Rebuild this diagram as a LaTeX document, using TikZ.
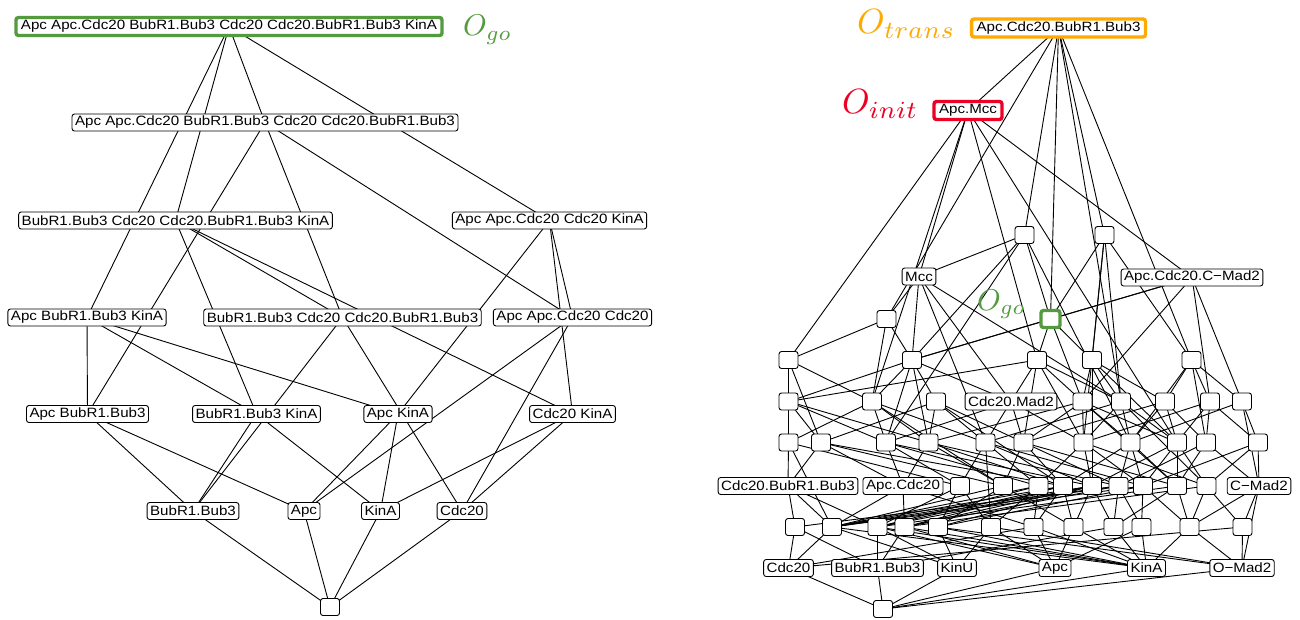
\documentclass[tikz,border=0pt]{standalone}
\usepackage{fontspec}
\usepackage{graphicx}
\newfontfamily\lblfont[FakeStretch=1.12]{Liberation Sans}
\pgfdeclarelayer{paper}
\pgfdeclarelayer{edges}
\pgfsetlayers{paper,edges,main}
\definecolor{gocol}{RGB}{84,154,62}
\definecolor{transcol}{RGB}{255,170,0}
\definecolor{initcol}{RGB}{236,0,36}
\tikzset{
  state/.style={draw=black, fill=white, rounded corners=2.5pt, line width=0.9pt,
    inner xsep=3pt, inner ysep=1pt, minimum height=17pt,
    font=\lblfont\fontsize{13.5}{14}\selectfont},
  blank/.style={state, minimum width=19pt, inner sep=0pt},
  hl/.style={draw=#1, line width=3.4pt, inner xsep=5pt, minimum height=18pt},
  link/.style={line width=0.9pt, draw=black},
  tag/.style={anchor=base west, inner sep=0pt, text=#1},
}
\begin{document}
\begin{tikzpicture}[x=1pt,y=-1pt]
\useasboundingbox (0,0) rectangle (1300,619);
\begin{pgfonlayer}{paper}
  \fill[white] (0,0) rectangle (1300,619);
\end{pgfonlayer}

% ---------------- left lattice ----------------
\node[state, hl=gocol] (lT)  at (229,26.5) {Apc Apc.Cdc20 BubR1.Bub3 Cdc20 Cdc20.BubR1.Bub3 KinA};
\node[tag=gocol] (lgo) at (463,35.5) {\scalebox{3}{$O_{go}$}};
\node[state] (lA1) at (265,122.5) {Apc Apc.Cdc20 BubR1.Bub3 Cdc20 Cdc20.BubR1.Bub3};
\node[state] (lB1) at (175.5,220.5) {BubR1.Bub3 Cdc20 Cdc20.BubR1.Bub3 KinA};
\node[state] (lB2) at (549.5,220.5) {Apc Apc.Cdc20 Cdc20 KinA};
\node[state] (lC1) at (87,317.5) {Apc BubR1.Bub3 KinA};
\node[state] (lC2) at (342.5,317.5) {BubR1.Bub3 Cdc20 Cdc20.BubR1.Bub3};
\node[state] (lC3) at (572.5,317.5) {Apc Apc.Cdc20 Cdc20};
\node[state] (lD1) at (87.5,414) {Apc BubR1.Bub3};
\node[state] (lD2) at (256.5,414) {BubR1.Bub3 KinA};
\node[state] (lD3) at (398,414) {Apc KinA};
\node[state] (lD4) at (572.5,414) {Cdc20 KinA};
\node[state] (lE1) at (193,511) {BubR1.Bub3};
\node[state] (lE2) at (304,511) {Apc};
\node[state] (lE3) at (380.5,511) {KinA};
\node[state] (lE4) at (462,511) {Cdc20};
\node[blank] (lF) at (330,607) {};

% ---------------- right lattice ----------------
\node[state, hl=transcol] (r0) at (1058.5,28) {Apc.Cdc20.BubR1.Bub3};
\node[tag=transcol] (ttrans) at (857,33) {\scalebox{3.5}{$O_{trans}$}};
\node[state, hl=initcol] (r1) at (968,110.5) {Apc.Mcc};
\node[tag=initcol] (tinit) at (842,113) {\scalebox{3.5}{$O_{init}$}};

\node[blank] (r2a) at (1024.5,235) {};
\node[blank] (r2b) at (1104.5,235) {};
\node[state] (mcc) at (919,276.5) {Mcc};
\node[state] (acc) at (1192,277.5) {Apc.Cdc20.C−Mad2};
\node[blank] (r4a) at (886.5,319) {};
\node[blank, draw=gocol, line width=3.4pt] (r4g) at (1050.5,319) {};
\node[tag=gocol] (rgo) at (977,310) {\scalebox{3}{$O_{go}$}};

\foreach \n/\x in {a/788.5,b/912,c/1037,d/1092,e/1191.5}
  \node[blank] (r5\n) at (\x,360) {};

\foreach \n/\x in {a/788.5,b/872,c/936,e/1082.5,f/1121,g/1165,h/1210,i/1242}
  \node[blank] (r6\n) at (\x,401.5) {};
\node[state] (r6d) at (1011,401.5) {Cdc20.Mad2};

\foreach \n/\x in {a/788.5,b/821,c/886,d/928.5,e/985.5,f/1023.5,g/1083.5,h/1130.5,i/1177,j/1206,k/1258}
  \node[blank] (r7\n) at (\x,442.5) {};

\node[state] (r8a) at (788,486) {Cdc20.BubR1.Bub3};
\node[state] (r8b) at (903,486) {Apc.Cdc20};
\foreach \n/\x in {c/960,d/1003,e/1038.5,f/1063,g/1092,h/1118.5,i/1143,j/1177,k/1206.5}
  \node[blank] (r8\n) at (\x,486) {};
\node[state] (r8l) at (1259,486) {C−Mad2};

\foreach \n/\x in {a/795,b/832,c/877.5,d/904.5,e/938,f/991,g/1033.5,h/1073.5,i/1113.5,j/1141.5,k/1189.5,l/1242.5}
  \node[blank] (r9\n) at (\x,527) {};

\node[state] (aC) at (788.5,568) {Cdc20};
\node[state] (aB) at (877.5,568) {BubR1.Bub3};
\node[state] (aU) at (957,568) {KinU};
\node[state] (aA) at (1055,568) {Apc};
\node[state] (aK) at (1146.5,568) {KinA};
\node[state] (aO) at (1242,568) {O−Mad2};
\node[blank] (rb) at (883,609) {};

% ---------------- connectors ----------------
\begin{pgfonlayer}{edges}
  % left lattice
  \foreach \u/\v in {lT/lA1,lT/lB1,lT/lB2,lT/lC1,
      lA1/lC2,lA1/lC3,lA1/lD1,
      lB1/lC2,lB1/lD2,lB1/lD4,
      lB2/lC3,lB2/lD3,lB2/lD4,
      lC1/lD1,lC1/lD2,lC1/lD3,
      lC2/lE1,lC2/lE4,lC3/lE2,lC3/lE4,
      lD1/lE1,lD1/lE2,lD2/lE1,lD2/lE3,lD3/lE2,lD3/lE3,lD4/lE3,lD4/lE4,
      lE1/lF,lE2/lF,lE3/lF,lE4/lF}
    \draw[link] (\u.center) -- (\v.center);
  % right lattice, upper part
  \foreach \u/\v in {r0/r1,r0/r4a,r0/r2a,r0/r4g,r0/r2b,r0/r5e,r0/r6f,
      r1/r5a,r1/mcc,r1/r6b,r1/r5c,r1/r7i,r1/acc,
      mcc/r2a,mcc/r4a,mcc/r5b,mcc/r6d,mcc/r6f,mcc/r7e,
      acc/r4g,acc/r5b,acc/r6e,acc/r6h,acc/r6i,
      r2a/r4g,r2a/r7c,r2a/r7h,r2a/r5b,
      r2b/r4g,r2b/r5d,r2b/r6f,r2b/r5e,r2b/r7g,
      r4a/r5a,r4a/r5b,r4a/r6b,
      r4g/r5b,r4g/r5c,r4g/r5d,r4g/r6e,
      r5a/r6a,r5a/r6b,r5a/r7b,
      r5b/r6a,r5b/r6b,r5b/r6c,r5b/r6d,r5b/r7c,r5b/r7d,
      r5c/r6a,r5c/r6d,r5c/r6e,r5c/r6f,r5c/r7f,r5c/r7g,
      r5d/r6e,r5d/r6f,r5d/r6g,r5d/r7i,r5d/r8g,
      r5e/r6g,r5e/r6h,r5e/r6i,r5e/r7h,r5e/r7j}
    \draw[link] (\u.center) -- (\v.center);
  % right lattice, middle part
  \foreach \u/\v in {r6a/r7a,r6a/r7b,r6a/r7c,r6a/r7d,
      r6b/r7a,r6b/r7c,r6b/r7d,r6b/r7e,r6b/r8d,
      r6c/r7b,r6c/r7d,r6c/r7e,r6c/r7f,r6c/r8f,
      r6d/r7c,r6d/r7e,r6d/r7f,r6d/r7g,
      r6e/r7d,r6e/r7f,r6e/r7g,r6e/r7h,r6e/r7i,r6e/r8j,
      r6f/r7e,r6f/r7g,r6f/r7h,r6f/r7i,r6f/r8k,
      r6g/r7f,r6g/r7h,r6g/r7i,r6g/r7j,
      r6h/r7g,r6h/r7i,r6h/r7j,r6h/r7k,
      r6i/r7h,r6i/r7k,r6i/r8l,
      r7a/r8a,r7a/r8c,r7a/r9b,
      r7b/r8a,r7b/r8b,r7b/r8d,r7b/r8f,
      r7c/r8b,r7c/r8c,r7c/r8e,r7c/r8g,
      r7d/r8b,r7d/r8d,r7d/r8f,r7d/r8h,
      r7e/r8c,r7e/r8e,r7e/r8g,r7e/r8i,r7e/r9f,
      r7f/r8d,r7f/r8f,r7f/r8h,r7f/r8j,
      r7g/r8e,r7g/r8g,r7g/r8i,r7g/r8k,
      r7h/r8f,r7h/r8h,r7h/r8i,r7h/r8j,
      r7i/r8g,r7i/r8i,r7i/r8j,r7i/r8k,
      r7j/r8h,r7j/r8j,r7j/r8l,
      r7k/r8i,r7k/r8k,r7k/r8l}
    \draw[link] (\u.center) -- (\v.center);
  % right lattice, lower part
  \foreach \u/\v in {r8a/r9a,r8a/r9b,r8a/r9c,
      r8b/r9b,r8b/r9d,r8b/r9g,
      r8c/r9c,r8c/r9e,r8c/r9f,
      r8d/r9b,r8d/r9e,r8d/r9h,
      r8e/r9b,r8e/r9c,r8e/r9f,r8e/r9g,
      r8f/r9b,r8f/r9c,r8f/r9d,r8f/r9g,r8f/r9h,
      r8g/r9b,r8g/r9c,r8g/r9d,r8g/r9e,r8g/r9h,r8g/r9i,
      r8h/r9a,r8h/r9b,r8h/r9d,r8h/r9i,r8h/r9j,
      r8i/r9b,r8i/r9e,r8i/r9j,r8i/r9k,
      r8j/r9c,r8j/r9i,r8j/r9k,
      r8k/r9d,r8k/r9k,r8k/r9l,
      r8l/r9k,r8l/r9l,r8l/aO,
      r9a/aC,r9a/aB,r9b/aC,r9b/aU,r9b/aK,
      r9c/aB,r9c/aU,r9c/aK,r9c/aA,r9d/aB,r9d/aA,r9d/aK,
      r9e/aU,r9e/aK,r9e/aO,r9f/aU,r9f/aA,r9f/aO,
      r9g/aC,r9g/aA,r9g/aK,r9h/aA,r9h/aK,
      r9i/aB,r9i/aK,r9j/aK,r9j/aA,
      r9k/aK,r9k/aO,r9l/aC,r9l/aO,
      aC/rb,aB/rb,aU/rb,aA/rb,aK/rb,aO/rb}
    \draw[link] (\u.center) -- (\v.center);
\end{pgfonlayer}
\end{tikzpicture}
\end{document}
